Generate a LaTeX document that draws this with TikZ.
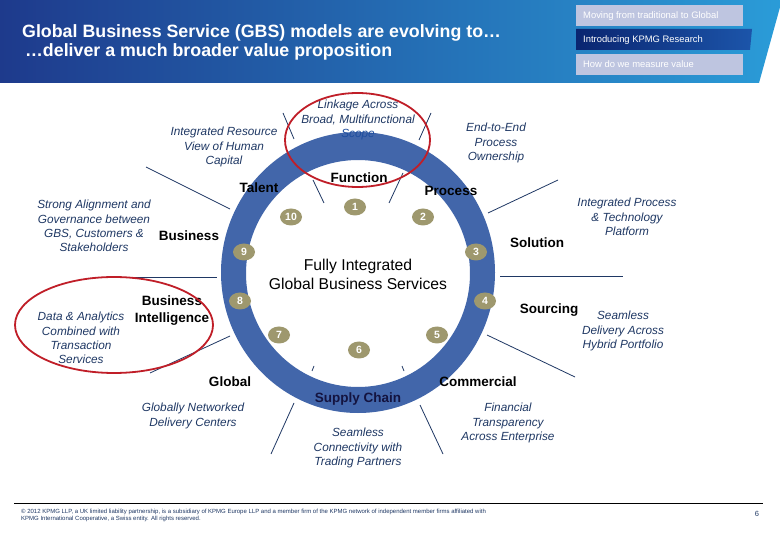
\documentclass[tikz,border=0pt]{standalone}
\usepackage{fontspec}
\setmainfont{Liberation Sans}
\usetikzlibrary{shapes.geometric}
\definecolor{navy}{HTML}{1F3864}
\definecolor{bannerL}{HTML}{1E3A8C}
\definecolor{bannerR}{HTML}{2A9CD8}
\definecolor{menulight}{HTML}{BEC5E0}
\definecolor{menudarkL}{HTML}{0A2570}
\definecolor{menudarkR}{HTML}{1C55AA}
\definecolor{ringblue}{HTML}{4266AA}
\definecolor{badgec}{HTML}{9E986E}
\definecolor{redc}{HTML}{C01E28}
\definecolor{scopec}{HTML}{1F4E9F}
\definecolor{chainc}{HTML}{141440}
\begin{document}
\begin{tikzpicture}[x=1pt,y=-1pt,
  lbl/.style={font=\bfseries\fontsize{13.5}{17}\selectfont, text=black, align=center, inner sep=0},
  desc/.style={font=\itshape\fontsize{11.8}{14.4}\selectfont, text=navy, align=center, inner sep=0},
  badge/.style={ellipse, fill=badgec, text=white, font=\bfseries\fontsize{10.5}{10.5}\selectfont, minimum width=22, minimum height=17, inner sep=0},
  sepline/.style={draw=navy, line width=0.8pt},
  menutext/.style={font=\fontsize{9.4}{10}\selectfont, text=white, anchor=west, inner sep=0},
  redring/.style={draw=redc, line width=1.8pt}]
\useasboundingbox (0,0) rectangle (780,540);
\fill[white] (0,0) rectangle (780,540);
% banner
\shade[left color=bannerL, right color=bannerR] (0,0) -- (782,0) -- (759,83) -- (0,83) -- cycle;
\node[font=\bfseries\fontsize{17.8}{20}\selectfont, text=white, anchor=base west, inner sep=0] (t1) at (22,37.5) {Global Business Service (GBS) models are evolving to…};
\node[font=\bfseries\fontsize{17.8}{20}\selectfont, text=white, anchor=base west, inner sep=0] (t2) at (25,57) {…deliver a much broader value proposition};
% menu
\fill[menulight] (576,5) rectangle (743,26);
\shade[left color=menudarkL, right color=menudarkR] (576,29) -- (752,29) -- (750,50) -- (576,50) -- cycle;
\fill[menulight] (576,54) rectangle (743,75);
\node[menutext] (m1) at (583,16) {Moving from traditional to Global};
\node[menutext] (m2) at (583,40) {Introducing KPMG Research};
\node[menutext] (m3) at (583,64.5) {How do we measure value};
% separator lines
\coordinate (a1) at (283,113); \coordinate (a2) at (294,139);
\coordinate (a3) at (313,180); \coordinate (a4) at (324,203);
\coordinate (b1) at (431,113); \coordinate (b2) at (419,140);
\coordinate (b3) at (403,173); \coordinate (b4) at (389,203);
\coordinate (c1) at (146,167); \coordinate (c2) at (230,209);
\coordinate (d1) at (488,213); \coordinate (d2) at (558,180);
\coordinate (e1) at (127,277); \coordinate (e2) at (217,277);
\coordinate (f1) at (500,276); \coordinate (f2) at (623,276);
\coordinate (g1) at (150,373); \coordinate (g2) at (230,336);
\coordinate (h1) at (487,335); \coordinate (h2) at (575,377);
\coordinate (i1) at (294,403); \coordinate (i2) at (271,454);
\coordinate (i3) at (314,366); \coordinate (i4) at (312,371);
\coordinate (j1) at (420,405); \coordinate (j2) at (443,454);
\coordinate (j3) at (402,366); \coordinate (j4) at (404,371);
\foreach \p/\q in {a1/a2,a3/a4,b1/b2,b3/b4,c1/c2,d1/d2,e1/e2,f1/f2,g1/g2,h1/h2,i1/i2,i3/i4,j1/j2,j3/j4}
  \draw[sepline] (\p) -- (\q);
% ring
\fill[ringblue, even odd rule] (358,272.5) ellipse [x radius=137, y radius=140.5] (358,273.5) ellipse [x radius=112, y radius=113.5];
% badges
\node[badge] (n1) at (355,207) {1};
\node[badge] (n2) at (423,217) {2};
\node[badge] (n3) at (476,252) {3};
\node[badge] (n4) at (485,301) {4};
\node[badge] (n5) at (437,335) {5};
\node[badge] (n6) at (359,350) {6};
\node[badge] (n7) at (279,335) {7};
\node[badge] (n8) at (240,301) {8};
\node[badge] (n9) at (244,252) {9};
\node[badge] (n10) at (291,217) {10};
% center
\node[font=\fontsize{15.7}{19}\selectfont, align=center, inner sep=0] (ctr) at (358,274.5) {Fully Integrated\\Global Business Services};
% bold labels
\node[lbl] (function) at (359,178) {Function};
\node[lbl] (talent) at (259,188) {Talent};
\node[lbl] (process) at (451,191) {Process};
\node[lbl] (business) at (189,236) {Business};
\node[lbl] (solution) at (537,243) {Solution};
\node[lbl] (bi) at (172,310.5) {Business\\Intelligence};
\node[lbl] (sourcing) at (549,310) {Sourcing};
\node[lbl] (global) at (230,382) {Global};
\node[lbl, text=chainc] (supply) at (358,399) {Supply Chain};
\node[lbl] (commercial) at (478,382) {Commercial};
% descriptions
\node[desc] (linkage) at (358,120) {Linkage Across\\Broad, Multifunctional\\\textcolor{scopec}{Scope}};
\node[desc] (irv) at (224,147) {Integrated Resource\\View of Human\\Capital};
\node[desc] (e2e) at (496,143) {End-to-End\\Process\\Ownership};
\node[desc] (strong) at (94,226) {Strong Alignment and\\Governance between\\GBS, Customers \&\\Stakeholders};
\node[desc] (data) at (81,338) {Data \& Analytics\\Combined with\\Transaction\\Services};
\node[desc] (ipt) at (627,217) {Integrated Process\\\& Technology\\Platform};
\node[desc] (sdh) at (623,331) {Seamless\\Delivery Across\\Hybrid Portfolio};
\node[desc] (gnd) at (193,416) {Globally Networked\\Delivery Centers};
\node[desc] (sct) at (358,448) {Seamless\\Connectivity with\\Trading Partners};
\node[desc] (fta) at (508,423) {Financial\\Transparency\\Across Enterprise};
% red highlights
\draw[redring] (357.5,140) ellipse [x radius=72.5, y radius=47];
\draw[redring] (114,325) ellipse [x radius=99, y radius=48];
% footer
\coordinate (fl1) at (14,503); \coordinate (fl2) at (763,503);
\draw[black, line width=0.8pt] (fl1) -- (fl2);
\node[font=\fontsize{6}{7}\selectfont, text=navy, align=left, anchor=north west, inner sep=0] (foot) at (21,508.5) {© 2012 KPMG LLP, a UK limited liability partnership, is a subsidiary of KPMG Europe LLP and a member firm of the KPMG network of independent member firms affiliated with\\KPMG International Cooperative, a Swiss entity. All rights reserved.};
\node[font=\fontsize{7.5}{8}\selectfont, text=navy, inner sep=0] (page) at (757,514) {6};
\end{tikzpicture}
\end{document}
